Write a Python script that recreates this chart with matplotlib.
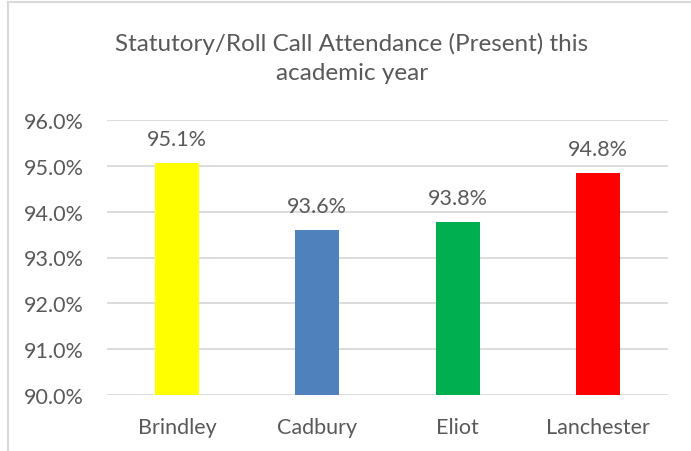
import matplotlib
matplotlib.use('Agg')
import matplotlib.pyplot as plt
from matplotlib.lines import Line2D

houses = ['Brindley', 'Cadbury', 'Eliot', 'Lanchester']
attendance = [95.07, 93.6, 93.78, 94.84]
bar_labels = ['95.1%', '93.6%', '93.8%', '94.8%']
colours = ['#FFFF00', '#4F81BD', '#00B050', '#FF0000']
y_ticks = [90, 91, 92, 93, 94, 95, 96]

plt.rcParams['font.family'] = ['Lato', 'DejaVu Sans']
txt = '#595959'
grid = '#D9D9D9'

fig = plt.figure(figsize=(6.91, 4.52), dpi=100)
ax = fig.add_axes([107/691, 1 - 396/452, 561/691, 275/452])

x = range(len(houses))
ax.bar(x, attendance, width=0.314, color=colours, zorder=2)
for i, v in enumerate(attendance):
    ax.text(i, v + 0.3, bar_labels[i], ha='center', va='bottom',
            fontsize=15.5, color=txt)

ax.set_xlim(-0.5, len(houses) - 0.5)
ax.set_ylim(90, 96)
ax.set_yticks(y_ticks)
ax.set_yticklabels(['%.1f%%' % t for t in y_ticks])
ax.set_xticks(list(x))
ax.set_xticklabels(houses)
ax.tick_params(axis='both', length=0, labelsize=15.5, labelcolor=txt)
ax.tick_params(axis='y', pad=17)
ax.tick_params(axis='x', pad=16)
ax.grid(axis='y', color=grid, linewidth=1.3, zorder=0)
for s in ax.spines.values():
    s.set_visible(False)

fig.text(352/691, 1 - 44/452, 'Statutory/Roll Call Attendance (Present) this',
         ha='center', va='center', fontsize=17.5, color=txt)
fig.text(352/691, 1 - 74/452, 'academic year',
         ha='center', va='center', fontsize=17.5, color=txt)

# chart border (left and top edges visible)
fig.add_artist(Line2D([7.5/691, 7.5/691], [0, 1 - 3/452], color=grid, linewidth=1.5))
fig.add_artist(Line2D([7.5/691, 1], [1 - 3/452, 1 - 3/452], color=grid, linewidth=1.5))

fig.savefig('out.png', dpi=100)
